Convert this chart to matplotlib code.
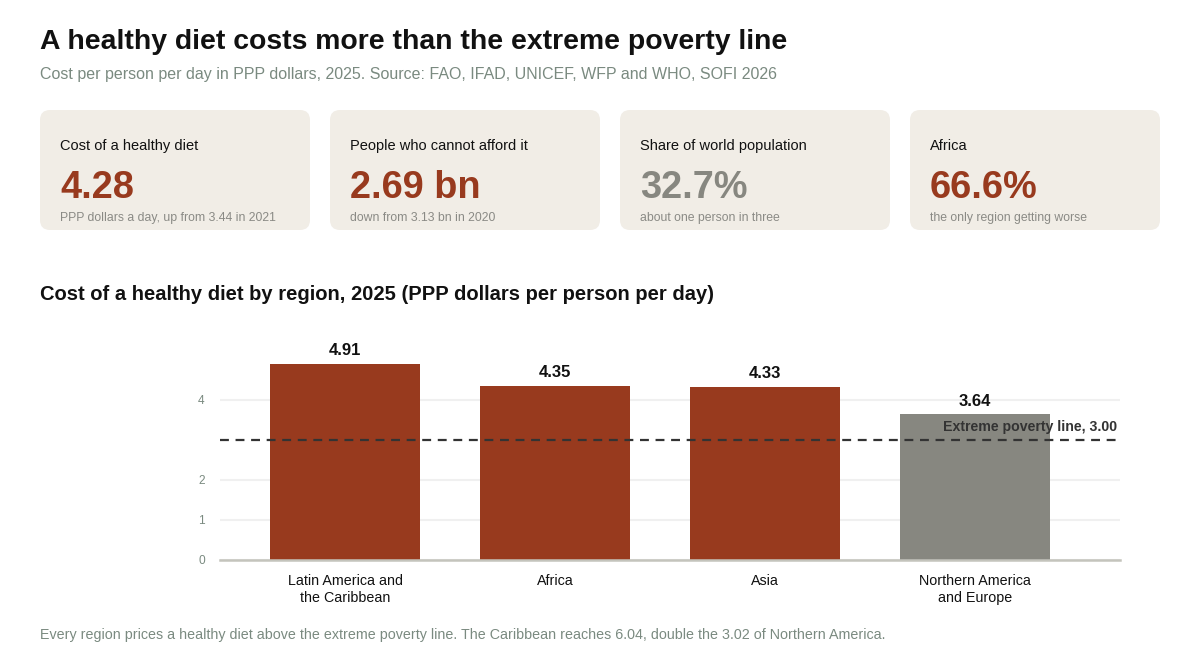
import matplotlib.pyplot as plt
from matplotlib.patches import FancyBboxPatch
from matplotlib.transforms import offset_copy

plt.rcParams['font.family'] = ['Liberation Sans', 'DejaVu Sans']

# Data
regions = ["Latin America and\nthe Caribbean", "Africa", "Asia", "Northern America\nand Europe"]
costs = [4.91, 4.35, 4.33, 3.64]
poverty_line = 3.00
y_ticks = [0, 1, 2, 4]

card_labels = ["Cost of a healthy diet", "People who cannot afford it",
               "Share of world population", "Africa"]
card_values = ["4.28", "2.69 bn", "32.7%", "66.6%"]
card_notes = ["PPP dollars a day, up from 3.44 in 2021", "down from 3.13 bn in 2020",
              "about one person in three", "the only region getting worse"]
card_muted = [False, False, True, False]

RUST = "#983a1e"
GRAY = "#878780"
CARD_BG = "#f1ede6"
MUTED_TXT = "#7a8a80"

W, H = 1200, 660
fig = plt.figure(figsize=(W / 100, H / 100), dpi=100)

# background axes in pixel coordinates for titles and cards
bg = fig.add_axes([0, 0, 1, 1], zorder=0)
bg.set_xlim(0, W)
bg.set_ylim(H, 0)
bg.axis('off')

bg.text(40, 42, "A healthy diet costs more than the extreme poverty line",
        fontsize=20.4, fontweight='bold', color='#111111', va='center')
bg.text(40, 75, "Cost per person per day in PPP dollars, 2025. Source: FAO, IFAD, UNICEF, WFP and WHO, SOFI 2026",
        fontsize=11.5, color=MUTED_TXT, va='center')

card_x = [40, 330, 620, 910]
card_w = [270, 270, 270, 250]
for i, x0 in enumerate(card_x):
    bg.add_patch(FancyBboxPatch((x0, 110), card_w[i], 120,
                                boxstyle="round,pad=0,rounding_size=10",
                                fc=CARD_BG, ec='none'))
    bg.text(x0 + 20, 146, card_labels[i], fontsize=10.5, color='#111111', va='center')
    bg.text(x0 + 20, 188, card_values[i], fontsize=27.3, fontweight='bold',
            color=GRAY if card_muted[i] else RUST, va='center')
    bg.text(x0 + 20, 218, card_notes[i], fontsize=8.85, color='#8a8a85', va='center')

bg.text(40, 294, "Cost of a healthy diet by region, 2025 (PPP dollars per person per day)",
        fontsize=14.5, fontweight='bold', color='#111111', va='center')
bg.text(40, 635, "Every region prices a healthy diet above the extreme poverty line. "
        "The Caribbean reaches 6.04, double the 3.02 of Northern America.",
        fontsize=10.3, color=MUTED_TXT, va='center')

# bar chart
ax = fig.add_axes([220 / W, (H - 560) / H, 900 / W, 220 / H], zorder=1)
ax.patch.set_alpha(0)
x = list(range(len(regions)))
colors = [GRAY if v == min(costs) else RUST for v in costs]
bars = ax.bar(x, costs, width=150 / 210, color=colors, zorder=2)
ax.set_xlim(-125 / 210, 775 / 210)
ax.set_ylim(0, 5.5)

for b, v in zip(bars, costs):
    ax.annotate(f"{v:.2f}", (b.get_x() + b.get_width() / 2, v), xytext=(0, 4),
                textcoords='offset points', ha='center', va='bottom',
                fontsize=12, fontweight='bold', color='#111111', zorder=4)

ax.set_yticks(y_ticks)
ax.set_yticklabels([str(t) for t in y_ticks])
ax.grid(axis='y', color='#f0f0f0', linewidth=1.5, zorder=0)
ax.set_xticks(x)
ax.set_xticklabels(regions, fontsize=10.3, color='#111111', linespacing=1.3)
ax.tick_params(axis='y', length=0, pad=11, labelsize=8.6, labelcolor=MUTED_TXT)
ax.tick_params(axis='x', length=0, pad=10)
for s in ['top', 'right', 'left']:
    ax.spines[s].set_visible(False)
ax.spines['bottom'].set_color('#c4c4bc')
ax.spines['bottom'].set_linewidth(1.8)
ax.spines['bottom'].set_zorder(3)

ax.axhline(poverty_line, color='#333333', linestyle=(0, (4, 3)), linewidth=1.6, zorder=3)
ax.text(1, poverty_line, f"Extreme poverty line, {poverty_line:.2f}",
        transform=offset_copy(ax.get_yaxis_transform(), fig=fig, x=-2, y=4, units='points'),
        ha='right', va='bottom', fontsize=10.2, fontweight='bold', color='#333333', zorder=4)

fig.savefig("out.png", dpi=100)
